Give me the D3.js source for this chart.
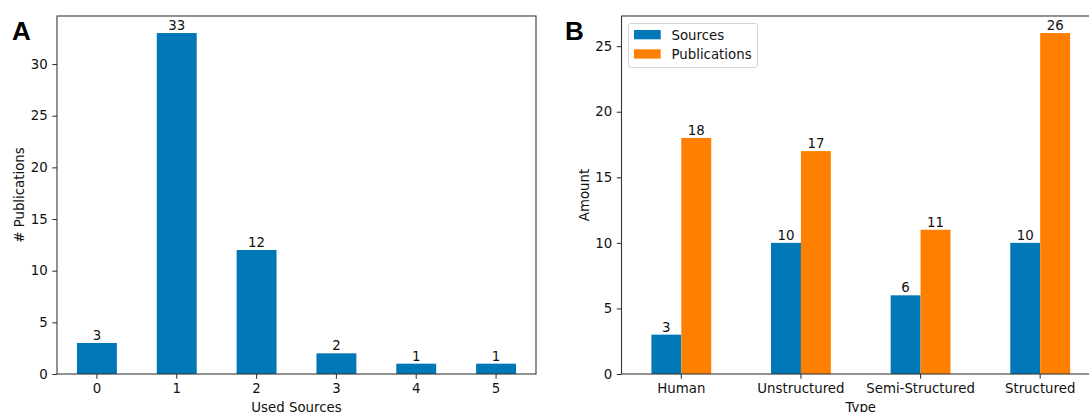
<!DOCTYPE html>
<html>
<head>
<meta charset="utf-8">
<script src="https://cdn.jsdelivr.net/npm/d3@7"></script>
<style>
  body { margin: 0; background: #fff; }
  svg { display: block; font-family: "DejaVu Sans", sans-serif; }
</style>
</head>
<body>
<div id="chart"></div>
<script>
const width = 1089;
const height = 412;

// Panel A data
const usedSources = ["0", "1", "2", "3", "4", "5"];
const publicationCounts = [3, 33, 12, 2, 1, 1];

// Panel B data
const types = ["Human", "Unstructured", "Semi-Structured", "Structured"];
const seriesNames = ["Sources", "Publications"];
const sourcesByType = [3, 10, 6, 10];
const publicationsByType = [18, 17, 11, 26];

const yTicksA = [0, 5, 10, 15, 20, 25, 30];
const yTicksB = [0, 5, 10, 15, 20, 25];

const blue = "#0077b7";
const orange = "#ff8000";
const spine = "#333";
const fs = 13.33;

const svg = d3.select("#chart")
    .append("svg")
    .attr("width", width)
    .attr("height", height);

const plotTop = 16, plotBottom = 374;

function frame(g, x0, x1) {
    g.append("rect")
        .attr("x", x0).attr("y", plotTop)
        .attr("width", x1 - x0).attr("height", plotBottom - plotTop)
        .attr("fill", "none")
        .attr("stroke", spine)
        .attr("stroke-width", 1.07);
}

function styleAxis(ax) {
    ax.attr("font-family", "DejaVu Sans").attr("font-size", fs);
    ax.select(".domain").remove();
    ax.selectAll("line").attr("stroke", spine).attr("stroke-width", 1.07);
    ax.selectAll("text").attr("fill", "#111");
}

function yAxis(g, x0, y, ticks) {
    const ax = g.append("g")
        .attr("transform", `translate(${x0},0)`)
        .call(d3.axisLeft(y).tickValues(ticks).tickSize(4.67).tickPadding(4.67));
    styleAxis(ax);
}

function xAxis(g, x) {
    const ax = g.append("g")
        .attr("transform", `translate(0,${plotBottom})`)
        .call(d3.axisBottom(x).tickSize(4.67).tickPadding(4.67));
    styleAxis(ax);
}

// ---- Panel A ----
const gA = svg.append("g");
const xA = d3.scaleBand().domain(usedSources).range([57, 536])
    .paddingInner(0.5).paddingOuter(0.25);
const yA = d3.scaleLinear().domain([0, 33 * 1.05]).range([plotBottom, plotTop]);

gA.selectAll("rect.bar")
    .data(publicationCounts)
    .enter()
    .append("rect")
    .attr("class", "bar")
    .attr("x", (d, i) => xA(usedSources[i]))
    .attr("y", d => yA(d))
    .attr("width", xA.bandwidth())
    .attr("height", d => yA(0) - yA(d))
    .attr("fill", blue);

gA.selectAll("text.val")
    .data(publicationCounts)
    .enter()
    .append("text")
    .attr("class", "val")
    .attr("x", (d, i) => xA(usedSources[i]) + xA.bandwidth() / 2)
    .attr("y", d => yA(d) - 3)
    .attr("text-anchor", "middle")
    .attr("font-size", fs)
    .attr("fill", "#111")
    .text(d => d);

frame(gA, 57, 536);
yAxis(gA, 57, yA, yTicksA);
xAxis(gA, xA);

gA.append("text")
    .attr("x", (57 + 536) / 2).attr("y", 411.5)
    .attr("text-anchor", "middle").attr("font-size", fs).attr("fill", "#111")
    .text("Used Sources");

gA.append("text")
    .attr("transform", `translate(23.5,${(plotTop + plotBottom) / 2}) rotate(-90)`)
    .attr("text-anchor", "middle").attr("font-size", fs).attr("fill", "#111")
    .text("# Publications");

gA.append("text")
    .attr("x", 12).attr("y", 40)
    .attr("font-family", "'Liberation Sans', Arial, sans-serif")
    .attr("font-weight", "bold").attr("font-size", 26)
    .text("A");

// ---- Panel B ----
const gB = svg.append("g");
const xB = d3.scaleBand().domain(types).range([621.5, 1100])
    .paddingInner(0.5).paddingOuter(0.25);
const xInner = d3.scaleBand().domain(seriesNames).range([0, xB.bandwidth()]);
const yB = d3.scaleLinear().domain([0, 26 * 1.05]).range([plotBottom, plotTop]);

const rowsB = types.map((t, i) => ({
    type: t,
    values: [
        { key: "Sources", v: sourcesByType[i] },
        { key: "Publications", v: publicationsByType[i] }
    ]
}));
const color = d3.scaleOrdinal().domain(seriesNames).range([blue, orange]);

const groups = gB.selectAll("g.grp")
    .data(rowsB)
    .enter()
    .append("g")
    .attr("class", "grp")
    .attr("transform", d => `translate(${xB(d.type)},0)`);

groups.selectAll("rect")
    .data(d => d.values)
    .enter()
    .append("rect")
    .attr("x", d => xInner(d.key))
    .attr("y", d => yB(d.v))
    .attr("width", xInner.bandwidth())
    .attr("height", d => yB(0) - yB(d.v))
    .attr("fill", d => color(d.key));

groups.selectAll("text")
    .data(d => d.values)
    .enter()
    .append("text")
    .attr("x", d => xInner(d.key) + xInner.bandwidth() / 2)
    .attr("y", d => yB(d.v) - 3)
    .attr("text-anchor", "middle")
    .attr("font-size", fs)
    .attr("fill", "#111")
    .text(d => d.v);

frame(gB, 621.5, 1100);
yAxis(gB, 621.5, yB, yTicksB);
xAxis(gB, xB);

gB.append("text")
    .attr("x", (621.5 + 1100) / 2).attr("y", 411.5)
    .attr("text-anchor", "middle").attr("font-size", fs).attr("fill", "#111")
    .text("Type");

gB.append("text")
    .attr("transform", `translate(589,${(plotTop + plotBottom) / 2}) rotate(-90)`)
    .attr("text-anchor", "middle").attr("font-size", fs).attr("fill", "#111")
    .text("Amount");

gB.append("text")
    .attr("x", 565).attr("y", 40)
    .attr("font-family", "'Liberation Sans', Arial, sans-serif")
    .attr("font-weight", "bold").attr("font-size", 26)
    .text("B");

// legend
const leg = gB.append("g");
leg.append("rect")
    .attr("x", 628.5).attr("y", 23.5)
    .attr("width", 129).attr("height", 44)
    .attr("rx", 2.5)
    .attr("fill", "#fff").attr("stroke", "#d6d6d6");
seriesNames.forEach((name, i) => {
    leg.append("rect")
        .attr("x", 634).attr("y", 30 + i * 19.3)
        .attr("width", 26.7).attr("height", 9.3)
        .attr("fill", color(name));
    leg.append("text")
        .attr("x", 671.5).attr("y", 39.5 + i * 19.3)
        .attr("font-size", fs).attr("fill", "#111")
        .text(name);
});
</script>
</body>
</html>
